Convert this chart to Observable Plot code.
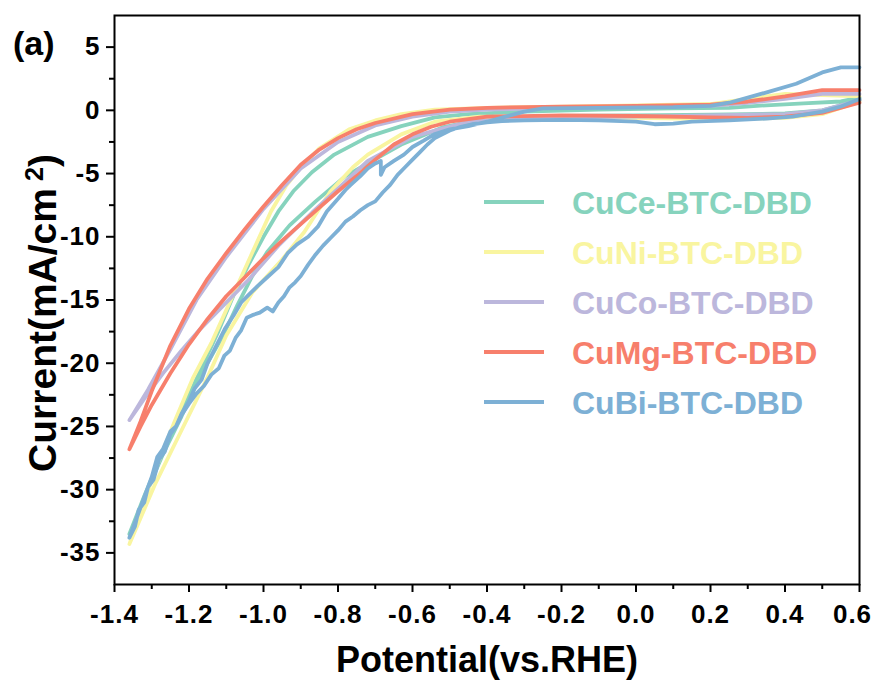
<!DOCTYPE html>
<html><head><meta charset="utf-8">
<script src="https://cdn.jsdelivr.net/npm/d3@7"></script>
<script src="https://cdn.jsdelivr.net/npm/@observablehq/plot@0.6"></script>
<style>
body{margin:0;background:#fff}
#chart svg{font-family:"Liberation Sans",Arial,sans-serif}
</style>
</head><body><div id="chart"></div><script>
const seriesNames = ["CuCe-BTC-DBD","CuNi-BTC-DBD","CuCo-BTC-DBD","CuMg-BTC-DBD","CuBi-BTC-DBD"];
const seriesColors = ["#86d3bd","#f9f5a0","#bcb7dc","#f77f6c","#7db0d5"];

const xTicks = [-1.4,-1.2,-1.0,-0.8,-0.6,-0.4,-0.2,0.0,0.2,0.4,0.6];
const xMinorTicks = [-1.3,-1.1,-0.9,-0.7,-0.5,-0.3,-0.1,0.1,0.3,0.5];
const yTicks = [5,0,-5,-10,-15,-20,-25,-30,-35];
const yMinorTicks = [2.5,-2.5,-7.5,-12.5,-17.5,-22.5,-27.5,-32.5];
const xDomain = [-1.4,0.6];
const yDomain = [-37.5,7.5];

// CuCe-BTC-DBD
const cuCeUpper = [[-1.36,-33.5],[-1.32,-30.5],[-1.27,-27],[-1.22,-23.8],[-1.17,-20.6],[-1.12,-17.4],[-1.08,-14.6],[-1.04,-12.2],[-1.0,-10.0],[-0.96,-8.0],[-0.92,-6.4],[-0.87,-4.9],[-0.81,-3.5],[-0.72,-2.1],[-0.63,-1.25],[-0.54,-0.55],[-0.45,-0.3],[-0.3,-0.1],[-0.1,0.05],[0.1,0.15],[0.25,0.2],[0.35,0.4],[0.45,0.55],[0.55,0.7],[0.6,1.0]];
const cuCeLower = [[-1.36,-33.5],[-1.32,-30.6],[-1.27,-27.2],[-1.22,-24.2],[-1.17,-21.0],[-1.11,-17.9],[-1.07,-15.4],[-1.03,-13.1],[-0.99,-11.2],[-0.93,-9.1],[-0.86,-7.2],[-0.78,-5.2],[-0.72,-4.2],[-0.63,-2.7],[-0.52,-1.35],[-0.41,-0.7],[-0.2,-0.45],[0,-0.4],[0.2,-0.35],[0.4,-0.25],[0.5,0.0],[0.6,0.8]];
// CuNi-BTC-DBD
const cuNiUpper = [[-1.36,-34.3],[-1.33,-31.8],[-1.29,-28.4],[-1.24,-24.7],[-1.19,-21.2],[-1.14,-18.4],[-1.1,-15.8],[-1.06,-13.2],[-1.02,-10.6],[-0.98,-8.0],[-0.94,-6.0],[-0.9,-4.5],[-0.85,-3.0],[-0.77,-1.5],[-0.7,-0.8],[-0.63,-0.3],[-0.54,0.05],[-0.4,0.2],[-0.2,0.3],[0,0.4],[0.2,0.5],[0.3,0.9],[0.4,1.3],[0.5,1.2],[0.6,1.1]];
const cuNiLower = [[-1.36,-34.3],[-1.29,-29.5],[-1.22,-25.3],[-1.15,-21.1],[-1.1,-17.8],[-1.03,-14.4],[-0.95,-11.8],[-0.89,-9.6],[-0.82,-6.4],[-0.76,-4.5],[-0.72,-3.5],[-0.63,-1.9],[-0.54,-0.9],[-0.42,-0.5],[-0.2,-0.55],[0,-0.6],[0.2,-0.7],[0.4,-0.6],[0.5,-0.3],[0.6,0.7]];
// CuCo-BTC-DBD
const cuCoUpper = [[-1.36,-24.5],[-1.31,-22.1],[-1.25,-18.9],[-1.18,-15.0],[-1.1,-11.6],[-1.0,-7.8],[-0.9,-4.6],[-0.8,-2.5],[-0.7,-1.2],[-0.6,-0.5],[-0.5,-0.1],[-0.4,0.05],[-0.2,0.2],[0,0.3],[0.2,0.35],[0.3,0.6],[0.4,0.9],[0.5,1.3],[0.6,1.3]];
const cuCoLower = [[-1.36,-24.5],[-1.32,-22.8],[-1.27,-20.8],[-1.22,-19.0],[-1.17,-17.3],[-1.12,-15.8],[-1.04,-13.4],[-0.96,-10.7],[-0.87,-8.1],[-0.8,-6.2],[-0.72,-4.0],[-0.6,-2.1],[-0.54,-1.6],[-0.45,-0.9],[-0.3,-0.6],[0,-0.5],[0.2,-0.4],[0.4,-0.3],[0.5,0.0],[0.6,0.8]];
// CuMg-BTC-DBD
const cuMgUpper = [[-1.36,-26.8],[-1.33,-24.6],[-1.3,-22.2],[-1.25,-18.6],[-1.2,-15.7],[-1.15,-13.3],[-1.1,-11.3],[-1.05,-9.4],[-1.0,-7.6],[-0.95,-5.9],[-0.9,-4.3],[-0.85,-3.1],[-0.8,-2.2],[-0.75,-1.5],[-0.7,-1.0],[-0.6,-0.3],[-0.5,0.05],[-0.4,0.2],[-0.2,0.3],[0,0.35],[0.2,0.45],[0.3,0.7],[0.4,1.1],[0.5,1.6],[0.6,1.6]];
const cuMgLower = [[-1.36,-26.8],[-1.33,-25.0],[-1.3,-23.3],[-1.25,-20.8],[-1.2,-18.5],[-1.15,-16.5],[-1.1,-14.7],[-1.05,-13.2],[-1.0,-11.7],[-0.95,-10.3],[-0.9,-9.0],[-0.85,-7.7],[-0.8,-6.4],[-0.75,-5.2],[-0.7,-3.9],[-0.65,-2.7],[-0.6,-1.9],[-0.55,-1.3],[-0.5,-0.9],[-0.4,-0.5],[-0.2,-0.4],[0,-0.45],[0.2,-0.55],[0.3,-0.6],[0.4,-0.5],[0.5,-0.2],[0.6,0.6]];
// CuBi-BTC-DBD
const cuBiUpper = [[-1.36,-33.8],[-1.34,-32.2],[-1.32,-30.6],[-1.3,-29.0],[-1.285,-27.4],[-1.27,-26.8],[-1.25,-25.4],[-1.235,-25.0],[-1.22,-24.0],[-1.2,-23.0],[-1.185,-22.0],[-1.166,-21.3],[-1.15,-20.0],[-1.13,-18.8],[-1.104,-17.3],[-1.08,-16.2],[-1.06,-15.2],[-1.04,-14.6],[-1.016,-13.9],[-0.99,-13.2],[-0.96,-12.4],[-0.935,-11.3],[-0.91,-10.6],[-0.88,-10.0],[-0.854,-9.2],[-0.83,-8.0],[-0.8,-7.0],[-0.78,-6.3],[-0.766,-5.9],[-0.74,-5.2],[-0.72,-4.6],[-0.7,-4.2],[-0.685,-4.0],[-0.685,-5.1],[-0.675,-4.5],[-0.65,-4.0],[-0.623,-3.5],[-0.6,-2.9],[-0.57,-2.4],[-0.542,-1.9],[-0.5,-1.5],[-0.45,-1.25],[-0.4,-0.9],[-0.35,-0.5],[-0.3,-0.1],[-0.25,0.15],[-0.1,0.2],[0.1,0.25],[0.2,0.35],[0.25,0.6],[0.3,1.0],[0.36,1.5],[0.43,2.1],[0.5,3.0],[0.55,3.4],[0.6,3.4]];
const cuBiLower = [[-1.36,-33.8],[-1.345,-32.9],[-1.335,-31.6],[-1.32,-31.0],[-1.31,-29.8],[-1.295,-29.2],[-1.28,-27.6],[-1.265,-27.0],[-1.25,-25.6],[-1.235,-25.0],[-1.22,-24.1],[-1.2,-23.2],[-1.18,-22.4],[-1.16,-21.8],[-1.14,-20.9],[-1.12,-20.4],[-1.105,-19.4],[-1.09,-19.0],[-1.075,-18.0],[-1.06,-17.4],[-1.045,-16.4],[-1.03,-16.2],[-1.01,-16.0],[-0.99,-15.6],[-0.975,-15.9],[-0.96,-15.2],[-0.945,-14.7],[-0.93,-14.0],[-0.915,-13.6],[-0.9,-13.1],[-0.88,-12.2],[-0.86,-11.4],[-0.84,-10.7],[-0.82,-10.1],[-0.8,-9.5],[-0.78,-8.8],[-0.76,-8.4],[-0.74,-7.9],[-0.72,-7.5],[-0.7,-7.2],[-0.68,-6.5],[-0.66,-5.9],[-0.64,-5.1],[-0.62,-4.5],[-0.6,-3.9],[-0.58,-3.3],[-0.56,-2.7],[-0.54,-2.2],[-0.52,-1.9],[-0.5,-1.6],[-0.47,-1.3],[-0.44,-1.1],[-0.4,-0.95],[-0.36,-0.85],[-0.3,-0.8],[-0.2,-0.75],[-0.1,-0.8],[0,-0.9],[0.05,-1.1],[0.1,-1.05],[0.15,-0.9],[0.25,-0.8],[0.35,-0.65],[0.42,-0.5],[0.5,-0.1],[0.55,0.3],[0.6,0.9]];

const branches = [
  [seriesNames[0], cuCeUpper, cuCeLower],
  [seriesNames[1], cuNiUpper, cuNiLower],
  [seriesNames[2], cuCoUpper, cuCoLower],
  [seriesNames[3], cuMgUpper, cuMgLower],
  [seriesNames[4], cuBiUpper, cuBiLower]
];
const rows = [];
for (const [name, up, low] of branches) {
  // one closed scan: upper branch back from 0.6 to the vertex, then lower branch to 0.6
  const loop = up.slice().reverse().concat(low.slice(1));
  loop.forEach(([x, y], i) => rows.push({series: name, x, y, i}));
}

const FONT = '"Liberation Sans", Arial, sans-serif';
const chart = Plot.plot({
  width: 877, height: 682,
  marginLeft: 114, marginRight: 18, marginTop: 15, marginBottom: 98,
  x: {domain: xDomain, label: null},
  y: {domain: yDomain, label: null},
  color: {domain: seriesNames, range: seriesColors},
  style: {fontFamily: FONT, fontSize: "25px", fontWeight: "bold", color: "black", background: "white", overflow: "visible"},
  marks: [
    Plot.line(rows, {x: "x", y: "y", z: "series", stroke: "series", strokeWidth: 3.8, strokeLinejoin: "round", strokeLinecap: "round"}),
    Plot.frame({stroke: "black", strokeWidth: 2}),
    Plot.axisX({ticks: xTicks, tickSize: 8, tickPadding: 12, tickFormat: d => d.toFixed(1), label: null, strokeWidth: 2}),
    Plot.axisX({ticks: xMinorTicks, tickSize: 5, tickFormat: () => "", label: null, strokeWidth: 2}),
    Plot.axisY({ticks: yTicks, tickSize: 8, tickPadding: 6, tickFormat: d => String(d), label: null, strokeWidth: 2}),
    Plot.axisY({ticks: yMinorTicks, tickSize: 5, tickFormat: () => "", label: null, strokeWidth: 2})
  ]
});

const svg = d3.select(chart);
// tick labels: the only texts Plot drew
svg.selectAll("text")
  .style("font-size", "26px")
  .style("font-weight", "bold")
  .style("letter-spacing", "1px");
svg.selectAll("text").filter(function() { return this.textContent === "0.6"; })
  .attr("dx", -7);
// axis titles
svg.append("text")
  .attr("x", 487).attr("y", 672)
  .attr("text-anchor", "middle")
  .style("font", `bold 36px ${FONT}`)
  .attr("fill", "black")
  .text("Potential(vs.RHE)");
const yl = svg.append("text")
  .attr("transform", "translate(56,313) rotate(-90)")
  .attr("text-anchor", "middle")
  .style("font", `bold 39px ${FONT}`)
  .attr("fill", "black");
yl.append("tspan").text("Current(mA/cm");
yl.append("tspan").attr("dy", -13).attr("dx", 7).style("font-size", "25px").text("2");
yl.append("tspan").attr("dy", 13).text(")");
// panel tag
svg.append("text")
  .attr("x", 13).attr("y", 55)
  .attr("text-anchor", "start")
  .style("font", `bold 34px ${FONT}`)
  .attr("fill", "black")
  .text("(a)");
// legend
const lg = svg.append("g").attr("text-anchor", "start");
seriesNames.forEach((name, k) => {
  const cy = 202 + k * 50;
  lg.append("line").attr("x1", 484).attr("x2", 544).attr("y1", cy).attr("y2", cy)
    .attr("stroke", seriesColors[k]).attr("stroke-width", 4);
  lg.append("text").attr("x", 572).attr("y", cy + 12)
    .attr("text-anchor", "start")
    .style("font", `bold 32px ${FONT}`)
    .attr("fill", seriesColors[k]).text(name);
});

document.getElementById("chart").appendChild(chart);
</script></body></html>
